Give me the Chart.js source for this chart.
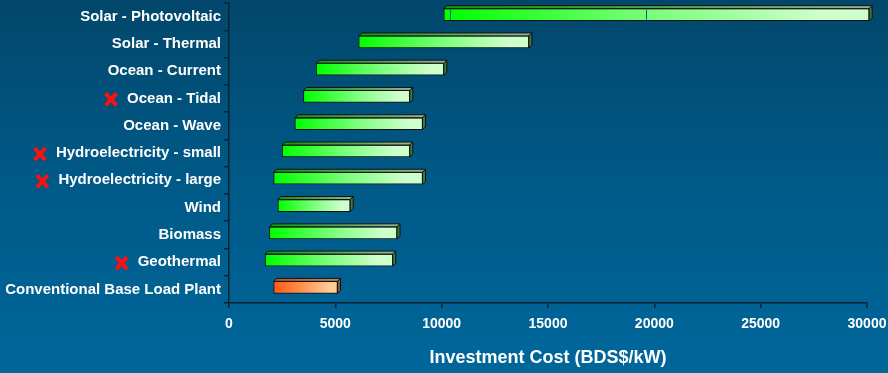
<!DOCTYPE html>
<html>
<head>
<meta charset="utf-8">
<script src="https://cdn.jsdelivr.net/npm/chart.js@4/dist/chart.umd.min.js"></script>
<style>
  html, body { margin: 0; padding: 0; }
  body {
    width: 888px; height: 373px; overflow: hidden;
    background: linear-gradient(to bottom, #02476b 0%, #005a88 50%, #00679b 100%);
  }
  #wrap { position: relative; width: 888px; height: 373px; }
</style>
</head>
<body>
<div id="wrap"><canvas id="chart" width="888" height="373"></canvas></div>
<script>
// Investment cost ranges per generation technology (BDS$/kW)
const categories = [
  'Solar - Photovoltaic',
  'Solar - Thermal',
  'Ocean - Current',
  'Ocean - Tidal',
  'Ocean - Wave',
  'Hydroelectricity - small',
  'Hydroelectricity - large',
  'Wind',
  'Biomass',
  'Geothermal',
  'Conventional Base Load Plant'
];
const costLow  = [10100, 6100, 4100, 3500, 3100, 2500, 2100, 2300, 1900, 1700, 2100];
const costHigh = [30100, 14100, 10100, 8500, 9100, 8500, 9100, 5700, 7900, 7700, 5100];
const plantType = ['renewable', 'renewable', 'renewable', 'renewable', 'renewable',
                   'renewable', 'renewable', 'renewable', 'renewable', 'renewable', 'conventional'];
// segment boundaries inside the photovoltaic bar
const pvSplits = [10400, 19600];
// technologies marked with a red cross
const flagged = ['Ocean - Tidal', 'Hydroelectricity - small', 'Hydroelectricity - large', 'Geothermal'];
const xMin = 0, xMax = 30000, xStep = 5000;
const axisTitle = 'Investment Cost (BDS$/kW)';

const FONT = "'Liberation Sans', Arial, sans-serif";
const DEPTH = 3;
const LIFT = 2;
const palette = {
  renewable:    { front: ['#00ff00', '#7dff7d', '#ccffcc'], top: ['#149414', '#92b292'], side: '#3d7a3d' },
  conventional: { front: ['#ff5a14', '#ff9a5a', '#ffcc99'], top: ['#b0582a', '#b28a72'], side: '#8c5636' }
};

const ranges = categories.map((c, i) => [costLow[i], costHigh[i]]);

function frontGradient(context) {
  const chart = context.chart;
  const i = context.dataIndex;
  const xs = chart.scales.x;
  if (!xs || !chart.chartArea) return palette[plantType[i]].front[0];
  const x0 = xs.getPixelForValue(costLow[i]);
  const x1 = xs.getPixelForValue(costHigh[i]);
  const g = chart.ctx.createLinearGradient(x0, 0, x1, 0);
  const p = palette[plantType[i]].front;
  g.addColorStop(0, p[0]);
  g.addColorStop(0.5, p[1]);
  g.addColorStop(0.88, p[2]);
  g.addColorStop(1, p[2]);
  return g;
}

// 3D top/side faces, segment dividers, lift of the bar group
const bars3d = {
  id: 'bars3d',
  beforeDatasetsDraw(chart) {
    chart.ctx.save();
    chart.ctx.translate(0, -LIFT);
  },
  afterDatasetsDraw(chart) {
    const ctx = chart.ctx;
    const meta = chart.getDatasetMeta(0);
    const xs = chart.scales.x;
    meta.data.forEach((el, i) => {
      const p = el.getProps(['x', 'y', 'base', 'height'], true);
      const left = Math.min(p.x, p.base), right = Math.max(p.x, p.base);
      const top = p.y - p.height / 2, bottom = p.y + p.height / 2;
      const pal = palette[plantType[i]];
      ctx.lineWidth = 1;
      ctx.strokeStyle = '#111';
      // top face
      const tg = ctx.createLinearGradient(left, 0, right, 0);
      tg.addColorStop(0, pal.top[0]);
      tg.addColorStop(1, pal.top[1]);
      ctx.beginPath();
      ctx.moveTo(left, top);
      ctx.lineTo(left + DEPTH, top - DEPTH);
      ctx.lineTo(right + DEPTH, top - DEPTH);
      ctx.lineTo(right, top);
      ctx.closePath();
      ctx.fillStyle = tg;
      ctx.fill();
      ctx.stroke();
      // side face
      ctx.beginPath();
      ctx.moveTo(right, top);
      ctx.lineTo(right + DEPTH, top - DEPTH);
      ctx.lineTo(right + DEPTH, bottom - DEPTH);
      ctx.lineTo(right, bottom);
      ctx.closePath();
      ctx.fillStyle = pal.side;
      ctx.fill();
      ctx.stroke();
      // segment dividers of the photovoltaic bar
      if (i === 0) {
        ctx.strokeStyle = '#1f4f9a';
        pvSplits.forEach(v => {
          const px = Math.round(xs.getPixelForValue(v)) + 0.5;
          ctx.beginPath();
          ctx.moveTo(px, top + 1);
          ctx.lineTo(px, bottom - 1);
          ctx.stroke();
        });
      }
    });
    ctx.restore();
  }
};

// red crosses in front of flagged category labels
const crossMarks = {
  id: 'crossMarks',
  afterDraw(chart) {
    const ctx = chart.ctx;
    const ys = chart.scales.y;
    const tickOpts = ys.options.ticks;
    const labelRight = ys.right - ys.options.grid.tickLength - tickOpts.padding;
    ctx.save();
    ctx.font = `bold ${tickOpts.font.size}px ${FONT}`;
    const labelWidths = categories.map(c => ctx.measureText(c).width);
    ctx.strokeStyle = '#ff1010';
    ctx.lineWidth = 4;
    ctx.lineCap = 'butt';
    categories.forEach((c, i) => {
      if (!flagged.includes(c)) return;
      const cy = ys.getPixelForValue(i) + 1;
      const cx = labelRight - labelWidths[i] - 16;
      ctx.beginPath();
      ctx.moveTo(cx - 5.4, cy - 6);
      ctx.lineTo(cx + 5.4, cy + 6);
      ctx.moveTo(cx + 5.4, cy - 6);
      ctx.lineTo(cx - 5.4, cy + 6);
      ctx.stroke();
    });
    ctx.restore();
  }
};

new Chart(document.getElementById('chart'), {
  type: 'bar',
  data: {
    labels: categories,
    datasets: [{
      data: ranges,
      backgroundColor: frontGradient,
      borderColor: '#111',
      borderWidth: 1,
      borderSkipped: false,
      barThickness: 12,
      clip: false
    }]
  },
  options: {
    indexAxis: 'y',
    responsive: false,
    animation: false,
    events: [],
    layout: { padding: { top: 3, right: 21, left: 0, bottom: 0 } },
    plugins: { legend: { display: false }, tooltip: { enabled: false } },
    scales: {
      y: {
        afterFit(scale) { scale.width = 229; scale.paddingTop = 0; scale.paddingBottom = 0; },
        grid: { drawOnChartArea: false, drawTicks: true, tickLength: 5, color: '#0b2230', lineWidth: 1.5 },
        border: { color: '#0b2230', width: 1.5 },
        ticks: { color: '#ffffff', padding: 3, font: { family: FONT, size: 15, weight: 'bold' } }
      },
      x: {
        min: xMin,
        max: xMax,
        afterFit(scale) { scale.height = 70; scale.paddingLeft = 0; scale.paddingRight = 0; },
        grid: { drawOnChartArea: false, drawTicks: true, tickLength: 5, color: '#0b2230', lineWidth: 1.5 },
        border: { color: '#0b2230', width: 1.5 },
        ticks: {
          stepSize: xStep, color: '#ffffff', padding: 8, maxRotation: 0,
          callback: v => String(v),
          font: { family: FONT, size: 14, weight: 'bold' }
        },
        title: {
          display: true,
          text: axisTitle,
          color: '#ffffff',
          padding: { top: 0, bottom: 4 },
          font: { family: FONT, size: 18, weight: 'bold' }
        }
      }
    }
  },
  plugins: [bars3d, crossMarks]
});
</script>
</body>
</html>
